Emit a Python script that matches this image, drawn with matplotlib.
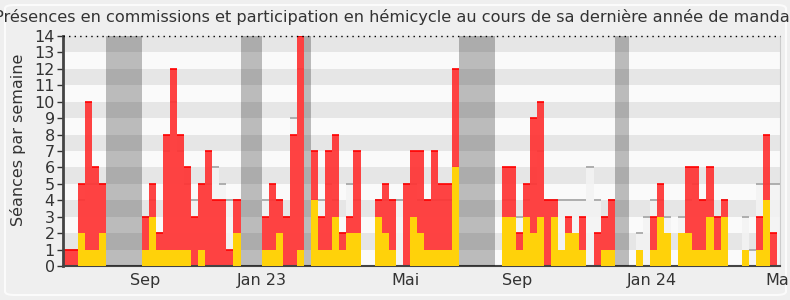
import numpy as np
import matplotlib
matplotlib.use("Agg")
import matplotlib.pyplot as plt
from matplotlib.patches import FancyBboxPatch

# --- DONNÉES (une valeur par semaine, 102 semaines) ---
commission = [1, 1, 5, 10, 6, 5, 0, 0, 0, 0,
              0, 3, 5, 2, 8, 12, 8, 6, 3, 5,
              7, 4, 4, 1, 4, 0, 0, 0, 3, 5,
              4, 3, 8, 14, 0, 7, 3, 7, 8, 2,
              3, 7, 0, 0, 4, 5, 4, 0, 5, 7,
              7, 4, 7, 5, 5, 12, 0, 0, 0, 0,
              0, 0, 6, 6, 2, 5, 9, 10, 4, 4,
              0, 3, 0, 3, 0, 2, 3, 4, 0, 0,
              0, 0, 0, 3, 5, 0, 0, 0, 6, 6,
              4, 6, 3, 4, 0, 0, 0, 0, 3, 8,
              2, 0]

hemicycle = [0, 0, 2, 1, 1, 2, 0, 0, 0, 0,
             0, 1, 3, 1, 1, 1, 1, 1, 0, 1,
             0, 0, 0, 0, 2, 0, 0, 0, 1, 1,
             2, 0, 0, 1, 0, 4, 1, 1, 3, 1,
             2, 2, 0, 0, 3, 2, 1, 0, 0, 3,
             2, 1, 1, 1, 1, 6, 0, 0, 0, 0,
             0, 0, 3, 3, 1, 3, 2, 3, 0, 3,
             1, 2, 2, 1, 0, 0, 1, 1, 0, 0,
             0, 1, 0, 1, 3, 2, 0, 2, 2, 1,
             1, 3, 1, 3, 0, 0, 1, 0, 1, 4,
             0, 0]

mediane = [1, 1, 4, 5, 5, 5, 0, 0, 0, 0,
           0, 3, 4, 2, 7, 10, 7, 5, 4, 5,
           5, 6, 5, 4, 4, 0, 0, 0, 4, 4,
           4, 3, 9, 12, 0, 4, 4, 5, 4, 2,
           5, 4, 0, 0, 4, 4, 4, 4, 5, 5,
           4, 4, 4, 4, 4, 6, 0, 0, 0, 0,
           0, 0, 4, 4, 3, 4, 5, 7, 4, 4,
           4, 4, 4, 4, 6, 4, 3, 4, 0, 0,
           0, 2, 3, 4, 4, 3, 0, 3, 4, 5,
           4, 4, 3, 4, 0, 0, 3, 1, 5, 5,
           5, 5]

# vacances parlementaires (première et dernière semaine)
vacances = [(6, 10), (25, 27), (34, 34), (56, 60), (78, 79)]

mois_pos = [10.97, 27.55, 47.8, 63.66, 82.78, 100.9]
mois_labels = ["Sep", "Jan 23", "Mai", "Sep", "Jan 24", "Mai"]

TITRE = ("Présences en commissions et participation en hémicycle "
         "au cours de sa dernière année de mandat")

# --- FIGURE ---
fond = "#efefef"
texte = "#333333"
fig = plt.figure(figsize=(7.9, 3.0), dpi=100, facecolor=fond)
fig.patches.append(FancyBboxPatch((5 / 790, 5 / 300), 781 / 790, 290 / 300,
                                  boxstyle="round,pad=0,rounding_size=0.012",
                                  transform=fig.transFigure, facecolor=fond,
                                  edgecolor="#fbfbfb", linewidth=1.5, zorder=-5))

ax = fig.add_axes([63 / 790, 34 / 300, 717 / 790, 230 / 300])
ax.set_facecolor("#fafafa")

x = np.arange(len(commission))
ymax = 14

# bandes horizontales
for k in range(1, ymax, 2):
    ax.axhspan(k, k + 1, color="#e6e6e6", lw=0, zorder=0)

# médiane (barres claires + trait gris)
ax.bar(x, mediane, width=1.0, color="#f3f3f3", alpha=0.85, lw=0, zorder=1)
for xi, m in zip(x, mediane):
    if m > 0:
        ax.hlines(m, xi - 0.5, xi + 0.5, color="#a8a8a8", lw=1.3, zorder=1.5)

# présences en commission
ax.bar(x, commission, width=1.0, color="#ff3333", alpha=0.92, lw=0, zorder=2)
for xi, c in zip(x, commission):
    if c > 0:
        ax.hlines(c, xi - 0.5, xi + 0.5, color="#ff0000", lw=1.2, zorder=2.5)

# participation en hémicycle
ax.bar(x, hemicycle, width=1.0, color="#ffd20a", lw=0, zorder=3)

# vacances
for d, f in vacances:
    ax.axvspan(d - 0.5, f + 0.5, color="black", alpha=0.25, lw=0, zorder=4)

ax.axhline(ymax, color="black", ls=(0, (1, 3)), lw=1.0, zorder=5, clip_on=False)

ax.set_xlim(-0.64, 100.91)
ax.set_ylim(0, ymax)
ax.set_yticks(range(0, ymax + 1))
ax.tick_params(axis="y", labelsize=11.5, colors=texte, length=4, width=1, pad=2)
ax.set_xticks(mois_pos)
ax.set_xticklabels(mois_labels)
ax.tick_params(axis="x", labelsize=11.5, colors=texte, length=0, pad=5)

ax.spines["top"].set_visible(False)
ax.spines["right"].set_color("#cccccc")
ax.spines["left"].set_color("#444444")
ax.spines["left"].set_linewidth(2)
ax.spines["bottom"].set_color("#444444")
ax.spines["bottom"].set_linewidth(1.5)

fig.text(18 / 790, 1 - 140 / 300, "Séances par semaine", rotation=90,
         ha="center", va="center", fontsize=11.5, color=texte)
fig.text(0.5, 1 - 17 / 300, TITRE, ha="center", va="center",
         fontsize=11.6, color=texte)

fig.savefig("out.png", dpi=100, facecolor=fond)
